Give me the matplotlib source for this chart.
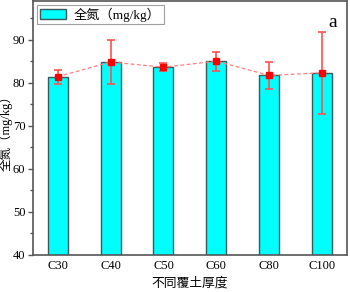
import numpy as np
import matplotlib
matplotlib.use('Agg')
import matplotlib.pyplot as plt
from matplotlib.ticker import MultipleLocator

# 数据
categories = ['C30', 'C40', 'C50', 'C60', 'C80', 'C100']
means = [81.4, 84.8, 83.6, 85.0, 81.7, 82.3]
err_low = [1.7, 5.2, 1.0, 2.2, 3.1, 9.6]
err_high = [1.5, 5.1, 1.0, 2.2, 3.0, 9.4]

serif = ['Liberation Serif', 'Noto Sans CJK SC']

plt.rcParams['font.family'] = serif
plt.rcParams['font.size'] = 9

fig = plt.figure(figsize=(3.5, 2.92), dpi=100)
ax = fig.add_axes([0.094, 0.127, 0.897, 0.870])

x = np.arange(len(categories))
ax.bar(x, means, width=0.38, color='#00ffff', edgecolor='#3a5a5a', linewidth=1.0,
       label='全氮（mg/kg）', zorder=2)

# 误差线与均值连线
ax.errorbar(x, means, yerr=[err_low, err_high], fmt='s', color='#ff0000',
            ecolor='#ff5050', elinewidth=1.2, capsize=3, capthick=1.2,
            markersize=4.5, zorder=4)
ax.plot(x, means, linestyle=(0, (3, 2)), color='#ff8080', linewidth=0.9, zorder=3)

ax.set_xlim(-0.47, 5.47)
ax.set_ylim(40, 99)
ax.set_xticks(x)
ax.set_xticklabels(categories)
ax.yaxis.set_major_locator(MultipleLocator(10))
ax.yaxis.set_minor_locator(MultipleLocator(5))
ax.tick_params(axis='y', which='major', direction='out', length=3.5, width=1, color='#555555', pad=2)
ax.tick_params(axis='y', which='minor', direction='out', length=2.5, width=1, color='#555555')
ax.tick_params(axis='x', length=0, pad=4)
ax.tick_params(labelsize=9)

for s in ax.spines.values():
    s.set_color('#555555')
    s.set_linewidth(1.2)

ax.set_ylabel('全氮（mg/kg）', fontsize=9, va='center')
ax.yaxis.set_label_coords(-0.087, 0.49)
ax.set_xlabel('不同覆土厚度', fontsize=9.2, va='center')
ax.xaxis.set_label_coords(0.5, -0.11)

leg = ax.legend(loc='upper left', bbox_to_anchor=(0.005, 0.995), prop={'size': 9.5},
                frameon=True, fancybox=False, edgecolor='#888888', handlelength=2.0,
                handleheight=0.8, borderpad=0.2, borderaxespad=0.2, handletextpad=0.6)
leg.get_frame().set_linewidth(0.8)

ax.text(0.955, 0.915, 'a', transform=ax.transAxes, fontsize=14, ha='center', va='center')

fig.savefig('out.png', dpi=100)
